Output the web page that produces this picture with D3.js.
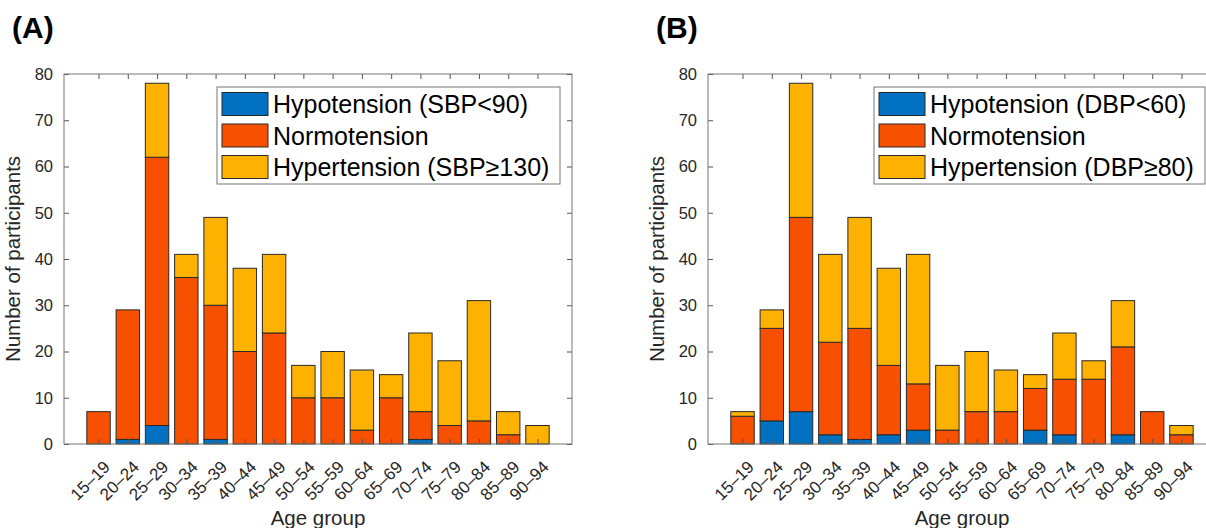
<!DOCTYPE html>
<html>
<head>
<meta charset="utf-8">
<script src="https://cdn.jsdelivr.net/npm/d3@7"></script>
<style>
  body { margin: 0; background: #fff; }
  svg { display: block; font-family: "Liberation Sans", Arial, Helvetica, sans-serif; }
</style>
</head>
<body>
<svg id="chart" width="1206" height="528"></svg>
<script>
'use strict';

var ageGroups = ['15–19', '20–24', '25–29', '30–34', '35–39', '40–44', '45–49', '50–54',
  '55–59', '60–64', '65–69', '70–74', '75–79', '80–84', '85–89', '90–94'];

// panel A: systolic
var hypoA = [0, 1, 4, 0, 1, 0, 0, 0, 0, 0, 0, 1, 0, 0, 0, 0];
var normoA = [7, 28, 58, 36, 29, 20, 24, 10, 10, 3, 10, 6, 4, 5, 2, 0];
var hyperA = [0, 0, 16, 5, 19, 18, 17, 7, 10, 13, 5, 17, 14, 26, 5, 4];

// panel B: diastolic
var hypoB = [0, 5, 7, 2, 1, 2, 3, 0, 0, 0, 3, 2, 0, 2, 0, 0];
var normoB = [6, 20, 42, 20, 24, 15, 10, 3, 7, 7, 9, 12, 14, 19, 7, 2];
var hyperB = [1, 4, 29, 19, 24, 21, 28, 14, 13, 9, 3, 10, 4, 10, 0, 2];

var yTicks = [0, 10, 20, 30, 40, 50, 60, 70, 80];
var keys = ['hypo', 'normo', 'hyper'];
var colors = {'hypo': '#0071C1', 'normo': '#F65000', 'hyper': '#FDB100'};

var svg = d3.select('#chart');

function drawPanel(opts) {
  var top = 74, bottom = 444;
  var x0 = opts.left, x1 = opts.left + 508;

  var rows = ageGroups.map(function (g, i) {
    return {group: g, hypo: opts.hypo[i], normo: opts.normo[i], hyper: opts.hyper[i]};
  });
  var series = d3.stack().keys(keys)(rows);

  var x = d3.scalePoint().domain(ageGroups).range([x0, x1]).padding(1.18);
  var y = d3.scaleLinear().domain([0, 80]).range([bottom, top]);
  var bw = x.step() * 0.8;

  var g = svg.append('g');

  g.selectAll('.layer')
    .data(series).enter().append('g')
    .attr('class', 'layer')
    .attr('fill', function (s) { return colors[s.key]; })
    .selectAll('rect')
    .data(function (s) { return s.filter(function (d) { return d[1] > d[0]; }); })
    .enter().append('rect')
    .attr('x', function (d) { return x(d.data.group) - bw / 2; })
    .attr('y', function (d) { return y(d[1]); })
    .attr('width', bw)
    .attr('height', function (d) { return y(d[0]) - y(d[1]); })
    .attr('stroke', '#2a2a2a')
    .attr('stroke-width', 1);

  // axes, box with inward ticks
  var left = g.append('g').attr('transform', 'translate(' + x0 + ',0)')
    .call(d3.axisLeft(y).tickValues(yTicks).tickSize(-5).tickSizeOuter(0).tickPadding(11));
  g.append('g').attr('transform', 'translate(' + x1 + ',0)')
    .call(d3.axisRight(y).tickValues(yTicks).tickSize(-5).tickSizeOuter(0).tickFormat(''));
  var bot = g.append('g').attr('transform', 'translate(0,' + bottom + ')')
    .call(d3.axisBottom(x).tickSize(-5).tickSizeOuter(0));
  g.append('g').attr('transform', 'translate(0,' + top + ')')
    .call(d3.axisTop(x).tickSize(-5).tickSizeOuter(0).tickFormat(''));

  g.selectAll('.domain').remove();
  g.selectAll('.tick line').attr('stroke', '#555');
  left.selectAll('text').attr('font-size', '16.5px').attr('fill', '#262626');
  bot.selectAll('text')
    .attr('font-size', '17px').attr('fill', '#262626')
    .attr('text-anchor', 'end')
    .attr('x', 0).attr('y', 0).attr('dy', null)
    .attr('transform', 'translate(12,24) rotate(-45)');

  g.append('rect')
    .attr('x', x0).attr('y', top)
    .attr('width', x1 - x0).attr('height', bottom - top)
    .attr('fill', 'none').attr('stroke', '#777').attr('stroke-width', 1);

  // labels
  g.append('text')
    .attr('transform', 'translate(' + (x0 - 44) + ',' + ((top + bottom) / 2) + ') rotate(-90)')
    .attr('text-anchor', 'middle')
    .attr('font-size', '20.5px').attr('fill', '#262626')
    .text('Number of participants');
  g.append('text')
    .attr('x', (x0 + x1) / 2).attr('y', 525)
    .attr('text-anchor', 'middle')
    .attr('font-size', '20.5px').attr('fill', '#262626')
    .text('Age group');
  g.append('text')
    .attr('x', x0 - 52).attr('y', 38)
    .attr('font-size', '30px').attr('font-weight', 'bold')
    .text(opts.title);

  // legend
  var lx = opts.legendX, ly = 87;
  var leg = g.append('g');
  leg.append('rect')
    .attr('x', lx).attr('y', ly)
    .attr('width', opts.legendW).attr('height', 97)
    .attr('fill', '#fff').attr('stroke', '#777').attr('stroke-width', 1);
  keys.forEach(function (k, i) {
    var cy = 104 + i * 31.5;
    leg.append('rect')
      .attr('x', lx + 5).attr('y', cy - 11.5)
      .attr('width', 46).attr('height', 23)
      .attr('fill', colors[k]).attr('stroke', '#2a2a2a').attr('stroke-width', 1);
    leg.append('text')
      .attr('x', lx + 56).attr('y', cy)
      .attr('dy', '0.36em')
      .attr('font-size', '25px').attr('fill', '#000')
      .text(opts.labels[i]);
  });
}

drawPanel({
  left: 64, title: '(A)', hypo: hypoA, normo: normoA, hyper: hyperA,
  legendX: 217, legendW: 343,
  labels: ['Hypotension (SBP<90)', 'Normotension', 'Hypertension (SBP\u2265130)']
});

drawPanel({
  left: 708, title: '(B)', hypo: hypoB, normo: normoB, hyper: hyperB,
  legendX: 874, legendW: 331,
  labels: ['Hypotension (DBP<60)', 'Normotension', 'Hypertension (DBP\u226580)']
});
</script>
</body>
</html>
